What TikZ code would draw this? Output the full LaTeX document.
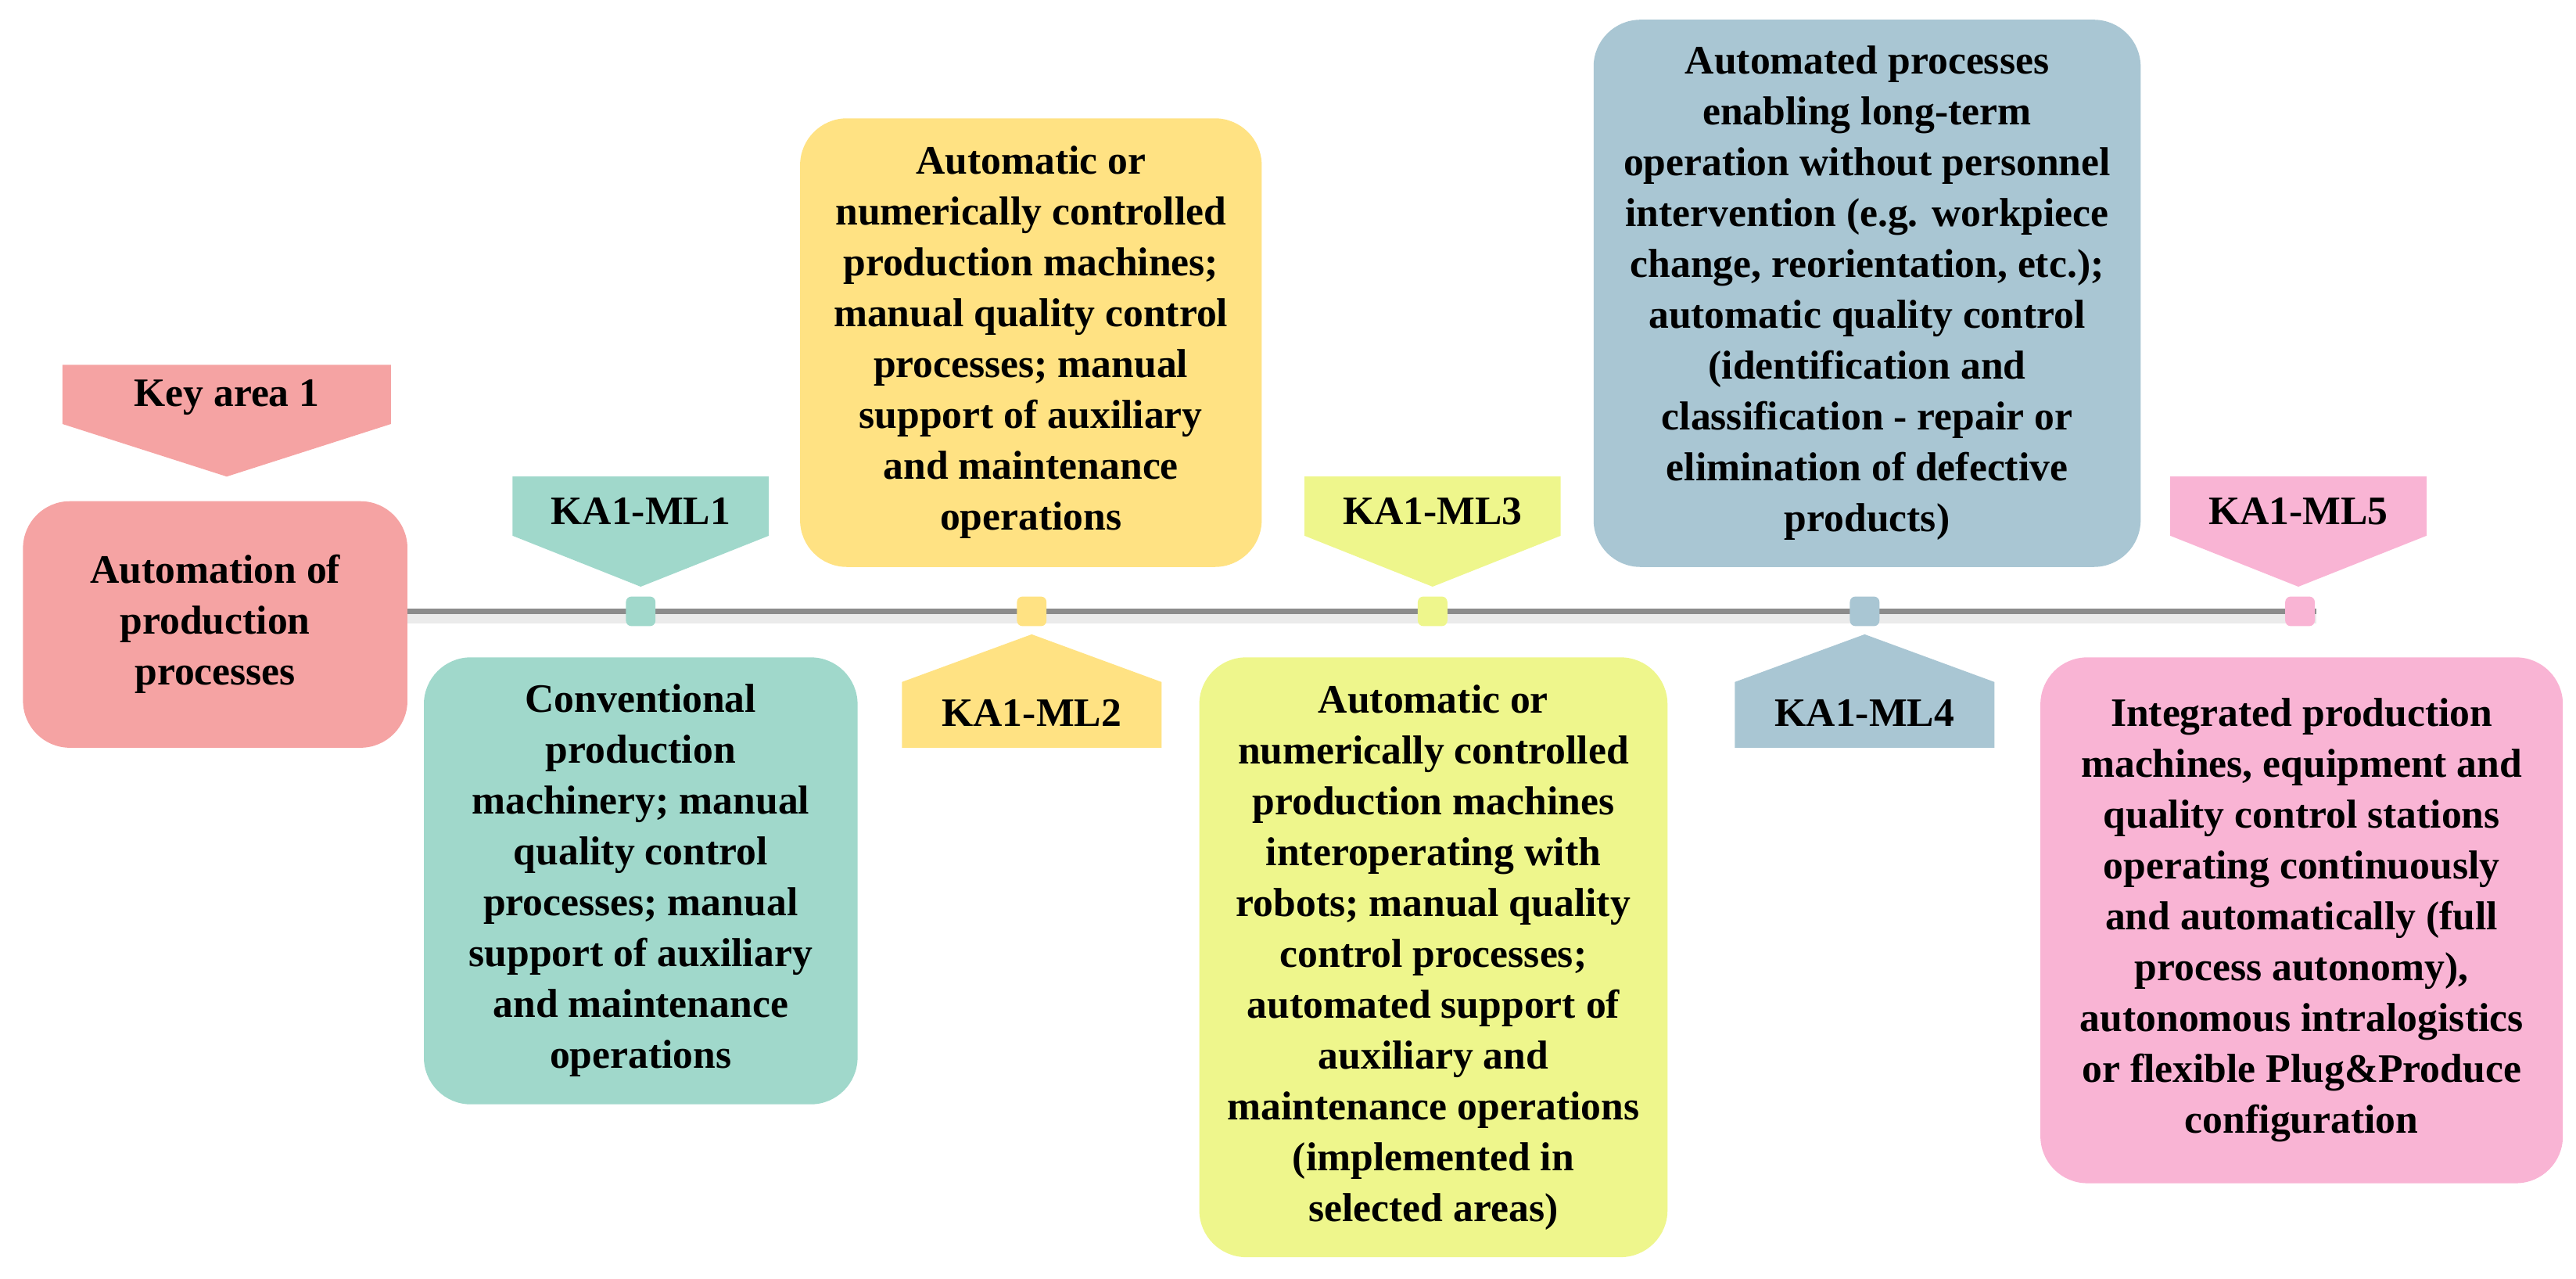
\documentclass[tikz,border=0pt]{standalone}
\usepackage{fontspec}
\setmainfont{Liberation Serif}
\begin{document}
\def\U{0.021008cm}
\definecolor{cKA}{HTML}{F5A3A3}
\definecolor{cA}{HTML}{A0D8CB}
\definecolor{cB}{HTML}{FFE283}
\definecolor{cC}{HTML}{EEF68C}
\definecolor{cD}{HTML}{A9C6D3}
\definecolor{cE}{HTML}{F9B4D4}
\begin{tikzpicture}[x=\U,y=-\U,
  txt/.style={font=\bfseries\fontsize{14.7}{18.5}\selectfont,align=center,text=black},
  box/.style={txt,rounded corners=0.6cm,draw=none,inner sep=0pt},
  mk/.style={minimum size=18*\U,inner sep=0pt,rounded corners=2pt,draw=none}]
\useasboundingbox (0,0) rectangle (1568,778);
% timeline
\draw[line width=4pt,black!8] (248,376) -- (1410,376);
\draw[line width=2.2pt,black!45] (248,372) coordinate (t0) -- (1410,372) coordinate (t1);
% pentagons
\fill[cKA] (38,222) -- (238,222) -- (238,258) -- (138,290) -- (38,258) -- cycle;
\node[txt] (ka) at (138,242) {Key area 1};
\foreach \x/\c/\n in {390/cA/1,872/cC/3,1399/cE/5}{
  \fill[\c] (\x-78,290) -- (\x+78,290) -- (\x+78,326) -- (\x,357) -- (\x-78,326) -- cycle;
  \node[txt] (l\n) at (\x,311) {KA1-ML\n};
}
\foreach \x/\c/\n in {628/cB/2,1135/cD/4}{
  \fill[\c] (\x-79,455) -- (\x+79,455) -- (\x+79,415) -- (\x,386) -- (\x-79,415) -- cycle;
  \node[txt] (l\n) at (\x,434) {KA1-ML\n};
}
% markers
\node[mk,fill=cA] (m1) at (390,372) {};
\node[mk,fill=cB] (m2) at (628,372) {};
\node[mk,fill=cC] (m3) at (872,372) {};
\node[mk,fill=cD] (m4) at (1135,372) {};
\node[mk,fill=cE] (m5) at (1400,372) {};
% boxes
\node[box,fill=cKA,minimum width=234*\U,minimum height=150*\U] (b0) at (131,380) {Automation of\\production\\processes};
\node[box,fill=cA,minimum width=264*\U,minimum height=272*\U] (b1) at (390,536) {Conventional\\production\\machinery; manual\\quality control\\processes; manual\\support of auxiliary\\and maintenance\\operations};
\node[box,fill=cB,minimum width=281*\U,minimum height=273*\U] (b2) at (627.5,208.5) {Automatic or\\numerically controlled\\production machines;\\manual quality control\\processes; manual\\support of auxiliary\\and maintenance\\operations};
\node[box,fill=cC,minimum width=285*\U,minimum height=365*\U] (b3) at (872.5,582.5) {Automatic or\\numerically controlled\\production machines\\interoperating with\\robots; manual quality\\control processes;\\automated support of\\auxiliary and\\maintenance operations\\(implemented in\\selected areas)};
\node[box,fill=cD,minimum width=333*\U,minimum height=333*\U] (b4) at (1136.5,178.5) {Automated processes\\enabling long-term\\operation without personnel\\intervention (e.g. workpiece\\change, reorientation, etc.);\\automatic quality control\\(identification and\\classification - repair or\\elimination of defective\\products)};
\node[box,fill=cE,minimum width=318*\U,minimum height=320*\U] (b5) at (1401,560) {Integrated production\\machines, equipment and\\quality control stations\\operating continuously\\and automatically (full\\process autonomy),\\autonomous intralogistics\\or flexible Plug\&Produce\\configuration};
\end{tikzpicture}
\end{document}
